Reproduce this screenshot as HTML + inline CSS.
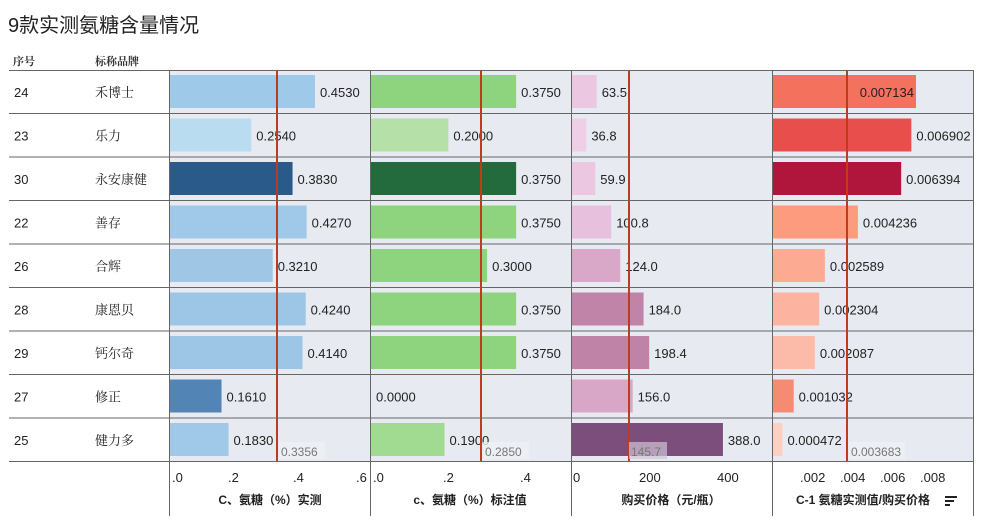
<!DOCTYPE html>
<html><head><meta charset="utf-8"><style>
body{margin:0;background:#fff;}
svg{display:block}
text{font-family:"Liberation Sans","Noto Sans CJK SC",sans-serif;}
.s{font-family:"Liberation Serif","Noto Serif CJK SC",serif;}
</style></head><body>
<svg width="984" height="528" viewBox="0 0 984 528" xmlns="http://www.w3.org/2000/svg">
<text x="8" y="32" font-size="20" fill="#222">9款实测氨糖含量情况</text>
<text x="13" y="65" font-size="11" font-weight="bold" class="s" fill="#333">序号</text>
<text x="95" y="65" font-size="11" font-weight="bold" class="s" fill="#333">标称品牌</text>
<rect x="170" y="70" width="803" height="391" fill="#e7eaf0"/>
<g id="rows"></g>
<line x1="277" y1="70" x2="277" y2="462" stroke="#c23a1c" stroke-width="2"/>
<line x1="481" y1="70" x2="481" y2="462" stroke="#c23a1c" stroke-width="2"/>
<line x1="629" y1="70" x2="629" y2="462" stroke="#c23a1c" stroke-width="2"/>
<line x1="847" y1="70" x2="847" y2="462" stroke="#c23a1c" stroke-width="2"/>
<g fill="#777" font-size="12">
<rect x="279" y="442" width="46" height="17" fill="#eef0f4" opacity="0.8"/>
<text x="281" y="456">0.3356</text>
<rect x="483" y="442" width="46" height="17" fill="#eef0f4" opacity="0.8"/>
<text x="485" y="456">0.2850</text>
<rect x="629" y="442" width="38" height="17" fill="#d0c4d4" opacity="0.7"/>
<text x="631" y="456">145.7</text>
<rect x="849" y="442" width="56" height="17" fill="#eef0f4" opacity="0.8"/>
<text x="851" y="456">0.003683</text>
</g>
<g stroke="#666" stroke-width="1">
<line x1="9" y1="70.5" x2="973" y2="70.5"/>
<line x1="9" y1="113.5" x2="973" y2="113.5"/>
<line x1="9" y1="157" x2="973" y2="157"/>
<line x1="9" y1="200.5" x2="973" y2="200.5"/>
<line x1="9" y1="244" x2="973" y2="244"/>
<line x1="9" y1="287.5" x2="973" y2="287.5"/>
<line x1="9" y1="331" x2="973" y2="331"/>
<line x1="9" y1="374.5" x2="973" y2="374.5"/>
<line x1="9" y1="418" x2="973" y2="418"/>
<line x1="9" y1="461.5" x2="973" y2="461.5"/>
<line x1="169.5" y1="70" x2="169.5" y2="516"/>
<line x1="370.5" y1="70" x2="370.5" y2="516"/>
<line x1="571.5" y1="70" x2="571.5" y2="516"/>
<line x1="772.5" y1="70" x2="772.5" y2="516"/>
<line x1="973.5" y1="70" x2="973.5" y2="516"/>
</g>
<g font-size="13" fill="#222">
<text x="172" y="482">.0</text><text x="228" y="482">.2</text><text x="293" y="482">.4</text><text x="356" y="482">.6</text>
<text x="373" y="482">.0</text><text x="443" y="482">.2</text><text x="520" y="482">.4</text>
<text x="573" y="482">0</text><text x="639" y="482">200</text><text x="717" y="482">400</text>
<text x="800" y="482">.002</text><text x="840" y="482">.004</text><text x="880" y="482">.006</text><text x="920" y="482">.008</text>
</g>
<g font-size="12" font-weight="bold" class="s" fill="#222" text-anchor="middle">
<text x="270" y="504">C、氨糖（%）实测</text>
<text x="470" y="504">c、氨糖（%）标注值</text>
<text x="671" y="504">购买价格（元/瓶）</text>
<text x="863" y="504">C-1 氨糖实测值/购买价格</text>
</g>
<g fill="#222"><rect x="945" y="496" width="12" height="2"/><rect x="945" y="500" width="9" height="2"/><rect x="945" y="504" width="5" height="2"/></g>
</svg>
<script>
const data=[
["24","禾博士",0.4530,"#9ec9e8",0.3750,"#8ed47e",63.5,"#ebc7e2",0.007134,"#f4715e"],
["23","乐力",0.2540,"#b9dcf0",0.2000,"#b5e0a8",36.8,"#efcfe7",0.006902,"#e84f4c"],
["30","永安康健",0.3830,"#2a5a8a",0.3750,"#236b3c",59.9,"#ebc7e2",0.006394,"#b0163b"],
["22","善存",0.4270,"#a0c8e8",0.3750,"#8ed47e",100.8,"#e6c0dc",0.004236,"#fc9b7e"],
["26","合辉",0.3210,"#9fc6e5",0.3000,"#8ed47e",124.0,"#d9a7c7",0.002589,"#fcab92"],
["28","康恩贝",0.4240,"#9cc5e6",0.3750,"#8ed47e",184.0,"#c084a8",0.002304,"#fcb3a0"],
["29","钙尔奇",0.4140,"#9cc5e6",0.3750,"#8ed47e",198.4,"#bf83a7",0.002087,"#fcbba8"],
["27","修正",0.1610,"#5384b6",0.0000,"#8ed47e",156.0,"#d8a6c6",0.001032,"#f48b72"],
["25","健力多",0.1830,"#a0c9e9",0.1900,"#a1db92",388.0,"#7c4e7c",0.000472,"#fdd0c4"]];
const ns="http://www.w3.org/2000/svg";const g=document.getElementById("rows");
function el(t,a,txt){const e=document.createElementNS(ns,t);for(const k in a)e.setAttribute(k,a[k]);if(txt!=null)e.textContent=txt;g.appendChild(e);return e;}
const panels=[[170,320,4],[371,387,4],[572,0.389,1],[773,20045,6]];
data.forEach((d,i)=>{const top=70+i*43.5;const mid=top+22;
el("text",{x:14,y:mid+5,"font-size":13,fill:"#222"},d[0]);
el("text",{x:95,y:mid+5,"font-size":13,fill:"#222",class:"s"},d[1]);
panels.forEach((p,j)=>{const v=d[2+j*2],c=d[3+j*2];const w=v*p[1];
if(w>0)el("rect",{x:p[0],y:top+5,width:w,height:33,fill:c});
if(j==3&&i==0){el("text",{x:p[0]+w-2,y:mid+5,"font-size":13,fill:"#222","text-anchor":"end"},v.toFixed(p[2]));}
else el("text",{x:p[0]+w+5,y:mid+5,"font-size":13,fill:"#222"},v.toFixed(p[2]));});
});
</script>
</body></html>
